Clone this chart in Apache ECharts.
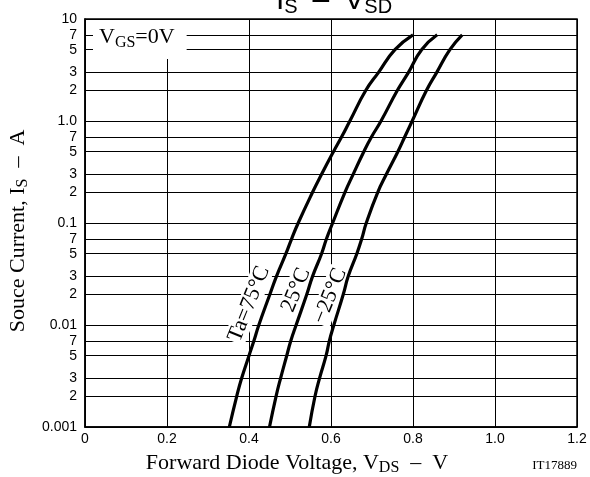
<!DOCTYPE html>
<html>
<head>
<meta charset="utf-8">
<script src="https://cdn.jsdelivr.net/npm/echarts@6/dist/echarts.min.js"></script>
<style>
  html, body { margin: 0; padding: 0; background: #fff; }
  #chart { width: 590px; height: 477px; }
</style>
</head>
<body>
<div id="chart"></div>
<script>
// Source current levels (A) at which the curves were read
const currents = [0.001, 0.002, 0.003, 0.005, 0.007, 0.01, 0.02, 0.03, 0.05, 0.07, 0.1, 0.2, 0.3, 0.5, 0.7, 1, 2, 3, 5, 7];
// Forward diode voltage (V) for each temperature
const vTa75 = [0.352, 0.370, 0.382, 0.400, 0.412, 0.424, 0.451, 0.467, 0.490, 0.504, 0.520, 0.555, 0.577, 0.606, 0.626, 0.646, 0.685, 0.716, 0.756, 0.800];
const vTa25 = [0.450, 0.466, 0.477, 0.492, 0.502, 0.515, 0.541, 0.555, 0.577, 0.589, 0.604, 0.634, 0.654, 0.680, 0.699, 0.722, 0.762, 0.789, 0.821, 0.859];
const vTaM25 = [0.547, 0.561, 0.572, 0.588, 0.596, 0.607, 0.630, 0.642, 0.663, 0.675, 0.686, 0.714, 0.735, 0.763, 0.780, 0.798, 0.833, 0.858, 0.890, 0.920];
const seriesNames = ['Ta=75°C', '25°C', '−25°C'];
// Axis ticks
const yTickValues = [0.001, 0.002, 0.003, 0.005, 0.007, 0.01, 0.02, 0.03, 0.05, 0.07, 0.1, 0.2, 0.3, 0.5, 0.7, 1, 2, 3, 5, 7, 10];
const yTickLabels = ['0.001', '2', '3', '5', '7', '0.01', '2', '3', '5', '7', '0.1', '2', '3', '5', '7', '1.0', '2', '3', '5', '7', '10'];
const xTickLabels = ['0', '0.2', '0.4', '0.6', '0.8', '1.0', '1.2'];

function pairs(vs) { return vs.map((v, i) => [v, currents[i]]); }

const serif = '"Liberation Serif", "Times New Roman", serif';
const sans = '"Liberation Sans", Arial, sans-serif';

function subRich(F, f, d, fam) {
  return {
    m: { fontSize: F, lineHeight: F, fontFamily: fam, color: '#000', verticalAlign: 'bottom', padding: [0, 0, d, 0] },
    s: { fontSize: f, lineHeight: f, fontFamily: fam, color: '#000', verticalAlign: 'bottom' }
  };
}

const chart = echarts.init(document.getElementById('chart'), null, { renderer: 'canvas' });

const curveLabelStyle = (text, x, y) => ({
  type: 'text', z: 1, x: x, y: y, rotation: 68 * Math.PI / 180,
  style: {
    text: text, fontFamily: serif, fontSize: 22, fill: '#000',
    align: 'center', verticalAlign: 'middle',
    backgroundColor: '#fff', padding: [0, 1, 0, 1]
  }
});

const option = {
  animation: false,
  backgroundColor: '#fff',
  grid: { left: 85, right: 13, top: 19, bottom: 50, show: true, borderColor: '#000', borderWidth: 1.5, containLabel: false },
  xAxis: {
    type: 'value', min: 0, max: 1.2, interval: 0.2,
    axisLine: { show: true, lineStyle: { color: '#000', width: 1.5 } },
    axisTick: { show: false },
    axisLabel: {
      color: '#000', fontFamily: sans, fontSize: 14, margin: 5,
      formatter: (v) => xTickLabels[Math.round(v / 0.2)]
    },
    splitLine: { show: true, lineStyle: { color: '#000', width: 1 } }
  },
  yAxis: {
    type: 'log', logBase: 10, min: 0.001, max: 10,
    axisLine: { show: true, lineStyle: { color: '#000', width: 1.5 } },
    axisTick: { show: false, customValues: yTickValues },
    axisLabel: {
      color: '#000', fontFamily: sans, fontSize: 14, margin: 8,
      customValues: yTickValues,
      formatter: (v) => {
        let best = 0, bd = Infinity;
        yTickValues.forEach((t, i) => { const d = Math.abs(Math.log10(t) - Math.log10(v)); if (d < bd) { bd = d; best = i; } });
        return yTickLabels[best];
      }
    },
    splitLine: { show: true, lineStyle: { color: '#000', width: 1 } },
    minorTick: { show: false }, minorSplitLine: { show: false }
  },
  series: [vTa75, vTa25, vTaM25].map((vs, i) => ({
    name: seriesNames[i], type: 'line', data: pairs(vs), z: 10,
    showSymbol: false, smooth: 0.5,
    lineStyle: { color: '#000', width: 3.2 }
  })),
  graphic: [
    // title (partly cut off at top)
    { type: 'text', z: 1, x: 334, y: 17,
      style: { text: '{m|I}{s|S}{m|\u2002–\u2002V}{s|SD}', rich: subRich(30, 20, 1, sans), align: 'center', verticalAlign: 'bottom' } },
    // VGS=0V box
    { type: 'text', z: 1, x: 93, y: 20,
      style: { text: '{m|V}{s|GS}{m|=0V}', rich: subRich(22, 16, 3, serif), align: 'left', verticalAlign: 'top',
               backgroundColor: '#fff', padding: [9, 12, 8, 6] } },
    curveLabelStyle('Ta=75°C', 249, 304),
    curveLabelStyle('25°C', 296, 290),
    curveLabelStyle('−25°C', 330, 296),
    // y axis title
    { type: 'text', z: 1, x: 20, y: 231, rotation: Math.PI / 2,
      style: { text: '{m|Souce Current, I}{s|S}{m|\u2002–\u2002A}', rich: subRich(22, 16, 2, serif), align: 'center', verticalAlign: 'middle' } },
    // x axis title
    { type: 'text', z: 1, x: 297, y: 465,
      style: { text: '{m|Forward Diode Voltage, V}{s|DS}{m|\u2002–\u2002V}', rich: subRich(22, 16, 2, serif), align: 'center', verticalAlign: 'middle' } },
    { type: 'text', z: 1, x: 577, y: 466,
      style: { text: 'IT17889', fontFamily: serif, fontSize: 13, fill: '#000', align: 'right', verticalAlign: 'middle' } }
  ]
};
chart.setOption(option);
</script>
</body>
</html>
